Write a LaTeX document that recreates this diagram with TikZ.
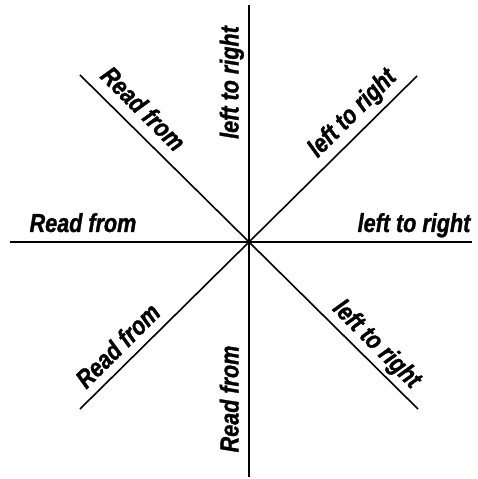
\documentclass[tikz,border=0pt]{standalone}
\usepackage{fontspec}
\newfontfamily\lblfont{Liberation Sans Bold Italic}[FakeStretch=0.83, FakeBold=1.2]
\usepackage{tikz}

\begin{document}
\begin{tikzpicture}[x=1bp, y=1bp, line width=1.6bp,
  lbl/.style={font=\fontsize{26bp}{30bp}\lblfont, inner sep=0pt, anchor=base}]
\useasboundingbox (-249,-237) rectangle (229,242);
\coordinate (c) at (0,0);
\foreach \x/\y/\n in {0/237/top, 0/-235/bot, -239/0/lft, 223/0/rgt, -169/167/ul, 168/166/ur, -169/-167/ll, 169/-167/lr}
  \coordinate (\n) at (\x,\y);
\foreach \n in {top, bot, lft, rgt, ul, ur, ll, lr}
  \draw (c) -- (\n);
% labels along the spokes
\foreach \x/\y/\a/\t/\n in {-10.5/159.5/90/left to right/ttop, 108.6/123.4/45/left to right/tur, 165/10/0/left to right/trgt, 122.4/-107.6/-45/left to right/tlr,
    -112.1/126.9/-45/Read from/tul, -166/10/0/Read from/tlft, -124.8/-110/45/Read from/tll, -10.5/-157/90/Read from/tbot}
  \node[lbl, rotate=\a] (\n) at (\x,\y) {\t};
\end{tikzpicture}
\end{document}
